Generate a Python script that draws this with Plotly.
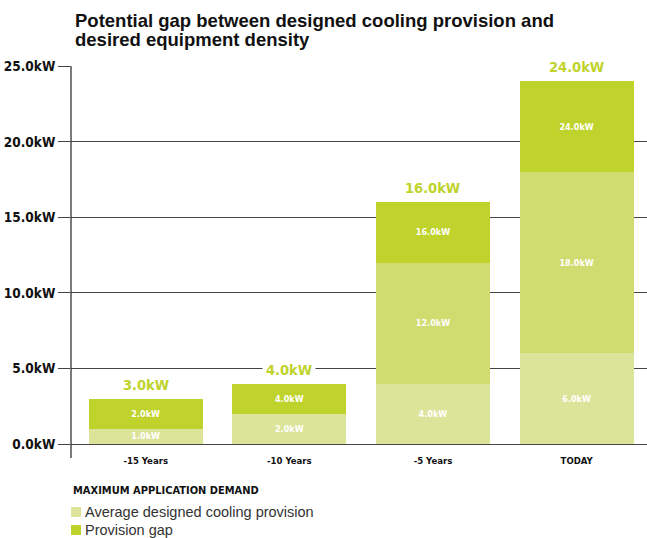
import plotly.graph_objects as go

# Data
categories = ["-15 Years", "-10 Years", "-5 Years", "TODAY"]
base_values = [1, 2, 4, 6]          # average designed cooling provision
mid_values = [0, 0, 8, 12]          # intermediate provision band
gap_values = [2, 2, 4, 6]           # provision gap
totals = [3, 4, 16, 24]
base_labels = ["1.0kW", "2.0kW", "4.0kW", "6.0kW"]
mid_labels = ["", "", "12.0kW", "18.0kW"]
gap_labels = ["2.0kW", "4.0kW", "16.0kW", "24.0kW"]
total_labels = ["3.0kW", "4.0kW", "16.0kW", "24.0kW"]
y_ticks = [0, 5, 10, 15, 20, 25]
y_tick_labels = ["0.0kW", "5.0kW", "10.0kW", "15.0kW", "20.0kW", "25.0kW"]
title_lines = ["Potential gap between designed cooling provision and",
               "desired equipment density"]

C_BASE = "#dce49a"
C_MID = "#d1dc70"
C_GAP = "#c0d32c"
COND = "DejaVu Sans Condensed, DejaVu Sans, sans-serif"
SANS = "Liberation Sans, Arial, Helvetica, sans-serif"

PLOT_TOP, PLOT_H = 66, 378  # pixel geometry of the plotting area


def py(pixel_y):
    """Convert a pixel row to paper coordinates."""
    return (PLOT_TOP + PLOT_H - pixel_y) / PLOT_H


fig = go.Figure()
seg_font = dict(family=COND, size=9, color="white", weight="bold")
for vals, labels, color in [(base_values, base_labels, C_BASE),
                            (mid_values, mid_labels, C_MID),
                            (gap_values, gap_labels, C_GAP)]:
    fig.add_trace(go.Bar(
        x=categories, y=vals, text=labels, marker=dict(color=color, line=dict(width=0)),
        textposition="inside", insidetextanchor="middle", textfont=seg_font,
        constraintext="none", showlegend=False, hoverinfo="skip",
    ))

for cat, tot, lab in zip(categories, totals, total_labels):
    fig.add_annotation(x=cat, y=tot, text=lab, showarrow=False, yanchor="bottom",
                       yshift=2, bgcolor="white", borderpad=3,
                       font=dict(family=COND, size=14.5, color=C_GAP, weight="bold"))

# Title, one annotation per line for tight leading
for i, line in enumerate(title_lines):
    fig.add_annotation(xref="paper", yref="paper", x=2 / 576, y=py(20 + 20 * i),
                       xanchor="left", yanchor="middle", text=line, showarrow=False,
                       font=dict(family=SANS, size=18.5, color="#111", weight="bold"))

# Vertical axis line extending below the baseline
fig.add_shape(type="line", xref="paper", yref="paper", x0=0, x1=0, y0=py(458), y1=1,
              line=dict(color="#222", width=1.2), layer="above")

# Legend block
fig.add_annotation(xref="paper", yref="paper", x=0, y=py(490), xanchor="left", yanchor="middle",
                   text="MAXIMUM APPLICATION DEMAND", showarrow=False,
                   font=dict(family=COND, size=11, color="#111", weight="bold"))
legend_items = [("Average designed cooling provision", C_BASE), ("Provision gap", C_GAP)]
for i, (name, color) in enumerate(legend_items):
    yc = py(512 + 18 * i)
    fig.add_shape(type="rect", xref="paper", yref="paper", x0=0, x1=10 / 576,
                  y0=yc - 5 / PLOT_H, y1=yc + 5 / PLOT_H, fillcolor=color, line=dict(width=0))
    fig.add_annotation(xref="paper", yref="paper", x=12 / 576, y=yc, xanchor="left",
                       yanchor="middle", text=name, showarrow=False,
                       font=dict(family=SANS, size=14.5, color="#333"))

fig.update_layout(
    width=647, height=538,
    margin=dict(l=71, r=0, t=PLOT_TOP, b=538 - PLOT_TOP - PLOT_H),
    paper_bgcolor="white", plot_bgcolor="white",
    barmode="stack", bargap=0.205,
    xaxis=dict(range=[-0.52, 3.49], showgrid=False, showline=False, zeroline=False,
               ticks="", tickfont=dict(family=COND, size=9.5, color="#111", weight="bold"),
               ticklabelstandoff=9),
    yaxis=dict(range=[0, 25.02], tickvals=y_ticks, ticktext=y_tick_labels,
               showgrid=True, gridcolor="#444", gridwidth=1.2,
               zeroline=True, zerolinecolor="#444", zerolinewidth=1.2,
               ticks="outside", ticklen=12, tickcolor="#444", tickwidth=1.2,
               showline=False,
               tickfont=dict(family=COND, size=13.5, color="#111", weight="bold")),
)

fig.write_html("out.html")
